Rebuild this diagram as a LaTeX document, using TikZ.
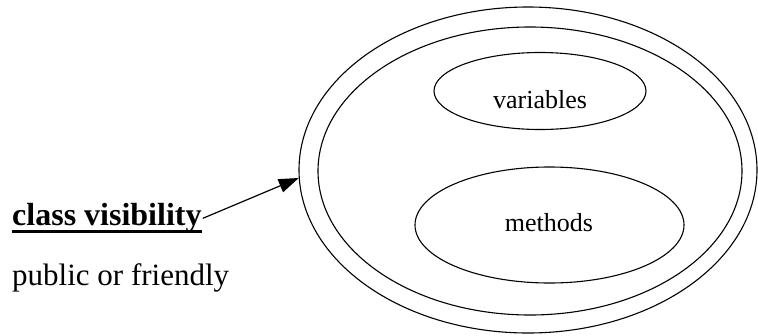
\documentclass[tikz,border=0pt]{standalone}
\usepackage{fontspec}
\setmainfont{Liberation Serif}
\usetikzlibrary{shapes.geometric,arrows.meta}
\begin{document}
\begin{tikzpicture}[x=1pt,y=-1pt,
  oval/.style={draw,ellipse,line width=1.1pt,inner sep=0pt},
  lbl/.style={inner sep=0pt,font=\fontsize{26}{30}\selectfont},
  side/.style={inner sep=0pt,anchor=base west}]
\useasboundingbox (0,0) rectangle (758,335);
\node[oval,minimum width=458pt,minimum height=326pt] (outer) at (528,170) {};
\node[oval,minimum width=424pt,minimum height=288pt] (inner) at (530,171) {};
\node[oval,minimum width=212pt,minimum height=77pt] (var) at (540,91) {};
\node[lbl] (vartext) at (540,100) {variables};
\node[oval,minimum width=269pt,minimum height=116pt] (meth) at (549.5,225) {};
\node[lbl] (methtext) at (549,223) {methods};
\node[side,font=\fontsize{32}{36}\selectfont\bfseries] (cv) at (12,225) {class visibility};
\draw[line width=3pt] ([yshift=-6pt]cv.base west) -- ([yshift=-6pt]cv.base east);
\node[side,font=\fontsize{31}{36}\selectfont] (pf) at (12,285) {public or friendly};
\draw[line width=1.2pt,-{Triangle[length=20pt,width=14pt]}] ([xshift=1pt,yshift=-1pt]cv.east) -- (outer.182);
\end{tikzpicture}
\end{document}
